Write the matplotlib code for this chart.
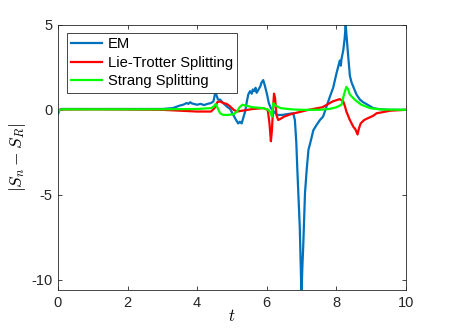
import matplotlib
matplotlib.use('Agg')
import matplotlib.pyplot as plt

plt.rcParams['font.family'] = ['Liberation Sans', 'DejaVu Sans']
plt.rcParams['mathtext.fontset'] = 'cm'
plt.rcParams['axes.unicode_minus'] = False

# EM
t_em = [0, 0.05, 0.1, 0.5, 1.0, 2.0, 3.0, 3.3, 3.5, 3.6,
        3.7, 3.75, 3.8, 3.85, 3.9, 4.0, 4.1, 4.2, 4.3, 4.4, 4.47, 4.52,
        4.56, 4.6, 4.66, 4.75, 4.85, 4.95, 5.04, 5.12, 5.18, 5.23,
        5.28, 5.33, 5.38, 5.43, 5.47, 5.52, 5.57, 5.6, 5.64, 5.68, 5.71, 5.78,
        5.82, 5.85, 5.9, 5.95, 6.01, 6.06, 6.12, 6.2, 6.3, 6.45, 6.6,
        6.76, 6.81, 6.85, 6.88, 6.95, 7.0, 7.02, 7.05, 7.1, 7.15,
        7.2, 7.27, 7.34, 7.43, 7.53, 7.62, 7.72, 7.82, 7.91, 8.0,
        8.05, 8.1, 8.13, 8.15, 8.2, 8.24, 8.27, 8.3, 8.34, 8.39, 8.44,
        8.5, 8.58, 8.68, 8.77, 8.9, 9.06, 9.2, 9.5, 10.0]
y_em = [-0.25, 0.0, 0.05, 0.05, 0.05, 0.05, 0.05, 0.1, 0.25, 0.3,
        0.4, 0.35, 0.45, 0.38, 0.35, 0.3, 0.35, 0.28, 0.35, 0.4, 0.5, 1.0,
        0.85, 0.6, 0.6, 0.4, 0.2, 0.05, -0.3, -0.6, -0.8, -0.7,
        -0.8, -0.45, -0.1, 0.5, 0.9, 1.1, 0.95, 1.2, 1.1, 1.3, 1.0, 1.25,
        1.4, 1.6, 1.75, 1.4, 0.9, 0.4, 0.1, -0.1, -0.3, -0.3, -0.25,
        -0.2, -0.6, -1.9, -3.5, -6.9, -11.0, -9.5, -8.0, -4.9, -3.5,
        -2.35, -1.8, -1.2, -0.9, -0.6, -0.4, 0.2, 0.8, 1.3, 2.1,
        2.5, 2.9, 2.6, 3.0, 3.5, 4.2, 5.0, 4.2, 3.2, 2.0, 1.6,
        1.3, 0.9, 0.6, 0.45, 0.3, 0.1, 0.05, 0.0, 0.0]

# Lie-Trotter
t_lt = [0, 0.05, 0.1, 1.0, 2.0, 3.0, 3.5, 4.0, 4.4, 4.5,
        4.58, 4.65, 4.75, 4.85, 4.95, 5.05, 5.15, 5.3, 5.6, 5.9,
        6.03, 6.08, 6.12, 6.15, 6.18, 6.21, 6.24, 6.28, 6.33, 6.38,
        6.5, 6.7, 6.9, 7.2, 7.6, 7.9, 8.1, 8.2, 8.25, 8.29,
        8.34, 8.39, 8.49, 8.55, 8.61, 8.65, 8.7, 8.8, 8.9, 9.06,
        9.16, 9.3, 9.55, 10.0]
y_lt = [-0.1, 0.0, 0.02, 0.03, 0.02, 0.0, -0.05, -0.1, -0.1, 0.1,
        0.45, 0.5, 0.4, 0.35, 0.2, 0.0, -0.1, -0.05, 0.05, 0.1,
        0.0, -0.8, -1.85, -1.2, 0.0, 0.95, 0.7, -0.3, -0.6, -0.55,
        -0.4, -0.25, -0.15, 0.0, 0.15, 0.5, 0.63, 0.5, 0.2, -0.1,
        -0.35, -0.6, -1.0, -1.15, -1.45, -1.1, -0.8, -0.6, -0.5, -0.35,
        -0.2, -0.15, -0.05, 0.0]

# Strang
t_st = [0, 0.05, 0.1, 1, 2, 3, 4, 4.4, 4.48, 4.53,
        4.58, 4.66, 4.75, 4.9, 5.05, 5.15, 5.22, 5.3, 5.4, 5.6,
        5.9, 6.05, 6.12, 6.15, 6.19, 6.25, 6.4, 6.7, 7.0, 7.5,
        7.8, 8.0, 8.15, 8.22, 8.29, 8.34, 8.39, 8.53, 8.72, 8.97,
        9.3, 10]
y_st = [-0.15, 0.0, 0.03, 0.03, 0.03, 0.03, 0.05, 0.1, 0.2, 0.35,
        0.15, -0.2, -0.3, -0.3, -0.25, -0.1, 0.15, 0.3, 0.25, 0.15,
        0.1, 0.0, -0.2, -0.4, 0.4, 0.25, 0.1, 0.03, 0.0, 0.0,
        0.05, 0.15, 0.3, 0.9, 1.35, 1.2, 0.9, 0.6, 0.3, 0.1,
        0.02, 0.0]

labels = ['EM', 'Lie-Trotter Splitting', 'Strang Splitting']

fig = plt.figure(figsize=(4.49, 3.36), dpi=100)
ax = fig.add_axes([0.129, 0.137, 0.775, 0.789])

ax.plot(t_em, y_em, color='#0072BD', lw=1.6, label=labels[0])
ax.plot(t_lt, y_lt, color='#FF0000', lw=1.6, label=labels[1])
ax.plot(t_st, y_st, color='#00FF00', lw=1.6, label=labels[2])

ax.set_xlim(0, 10)
ax.set_ylim(-10.6, 5)
ax.set_xticks([0, 2, 4, 6, 8, 10])
ax.set_yticks([-10, -5, 0, 5])

ax.tick_params(direction='in', top=True, right=True, length=3, width=0.6,
               labelsize=10.5, colors='#262626', pad=4)
for s in ax.spines.values():
    s.set_color('#262626')
    s.set_linewidth(0.6)

ax.set_xlabel('$t$', fontsize=12, labelpad=-1)
ax.set_ylabel('$|S_n - S_R|$', fontsize=12.5, labelpad=2)

leg = ax.legend(loc='upper left', bbox_to_anchor=(0.025, 0.969), borderaxespad=0,
                fontsize=10.6, fancybox=False, framealpha=1, edgecolor='#262626',
                handlelength=2.1, handletextpad=0.4, labelspacing=0.3,
                borderpad=0.3)
leg.get_frame().set_linewidth(0.6)

fig.savefig('out.png', dpi=100)
